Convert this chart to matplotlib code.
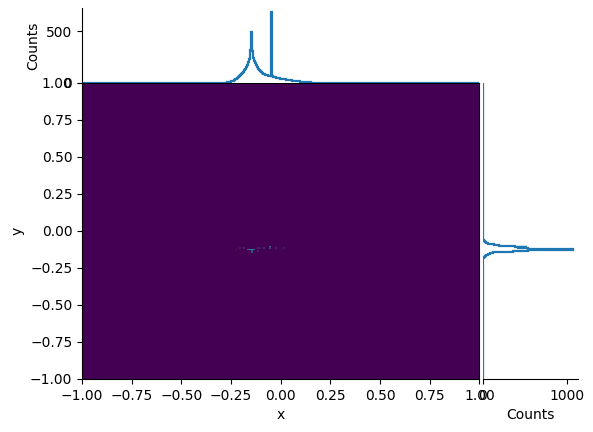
import numpy as np
import matplotlib
matplotlib.use("Agg")
import matplotlib.pyplot as plt

# marginal histogram of x: counts per 0.005 bin, starting at x_start
x_start = -0.30
x_counts = [1, 1, 2, 2, 3, 4, 5, 7, 9, 12,
            15, 19, 24, 30, 36, 43, 50, 58, 66, 75,
            85, 96, 108, 122, 138, 155, 175, 198, 230, 320,
            490, 310, 245, 215, 190, 170, 152, 138, 125, 114,
            105, 97, 90, 85, 80, 76, 73, 70, 68, 66,
            690, 64, 61, 58, 55, 52, 49, 47, 45, 43,
            41, 39, 37, 35, 34, 32, 31, 29, 28, 26,
            25, 24, 22, 21, 20, 19, 17, 16, 15, 14,
            13, 12, 11, 10, 9, 8, 7, 6, 6, 5,
            4, 4, 3, 3, 2, 2, 2, 1, 1, 1]

# marginal histogram of y: counts per 0.005 bin, starting at y_start
y_start = -0.22
y_counts = [1, 2, 3, 4, 6, 8, 11, 15, 20, 27,
            36, 48, 65, 90, 130, 200, 360, 540, 1080, 560,
            540, 420, 530, 380, 200, 140, 95, 65, 45, 32,
            22, 15, 10, 7, 5, 3, 2, 1, 1, 0]

# 2d histogram: occupied cells (x, y, count)
spot_x = [-0.165, -0.155, -0.145, -0.135, -0.145, -0.145, -0.055, -0.055,
          -0.20, -0.18, -0.12, -0.10, -0.08, -0.03, 0.0, 0.02, -0.11, -0.22]
spot_y = [-0.125, -0.125, -0.125, -0.125, -0.135, -0.145, -0.105, -0.115,
          -0.11, -0.12, -0.115, -0.12, -0.11, -0.12, -0.13, -0.11, -0.14, -0.13]
spot_n = [30, 40, 45, 30, 25, 20, 40, 15,
          6, 8, 8, 6, 10, 8, 5, 6, 7, 4]

width = 0.005
edges = np.round(np.arange(-1, 1 + width / 2, width), 4)

def centers(start, counts):
    return start + width * (np.arange(len(counts)) + 0.5)

fig = plt.figure(figsize=(5.93, 4.32), dpi=100)
ax = fig.add_axes([0.1383, 0.1227, 0.6703, 0.6852])
ax_top = fig.add_axes([0.1383, 0.8079, 0.6703, 0.1736], sharex=ax)
ax_right = fig.add_axes([0.8137, 0.1227, 0.161, 0.6852], sharey=ax)

ax.hist2d(spot_x, spot_y, bins=200, range=[[-1, 1], [-1, 1]],
          weights=spot_n, cmap="viridis", vmin=0, vmax=95)
ax.set_xlim(-1, 1)
ax.set_ylim(-1, 1)
ax.set_xticks(np.arange(-1, 1.01, 0.25))
ax.set_yticks(np.arange(-1, 1.01, 0.25))
ax.set_xlabel("x")
ax.set_ylabel("y")

ax_top.hist(centers(x_start, x_counts), bins=edges, weights=x_counts,
            histtype="step", color="tab:blue", linewidth=1.6)
ax_top.set_ylabel("Counts")
ax_top.set_yticks([0, 500])
ax_top.tick_params(axis="x", bottom=False, labelbottom=False)
for side in ["top", "right", "bottom"]:
    ax_top.spines[side].set_visible(False)

ax_right.hist(centers(y_start, y_counts), bins=edges, weights=y_counts,
              histtype="step", orientation="horizontal", color="tab:blue",
              linewidth=1.6)
ax_right.set_xlabel("Counts")
ax_right.set_xticks([0, 1000])
ax_right.tick_params(axis="y", left=False, labelleft=False)
for side in ["top", "right", "left"]:
    ax_right.spines[side].set_visible(False)

fig.savefig("out.png", dpi=100)
